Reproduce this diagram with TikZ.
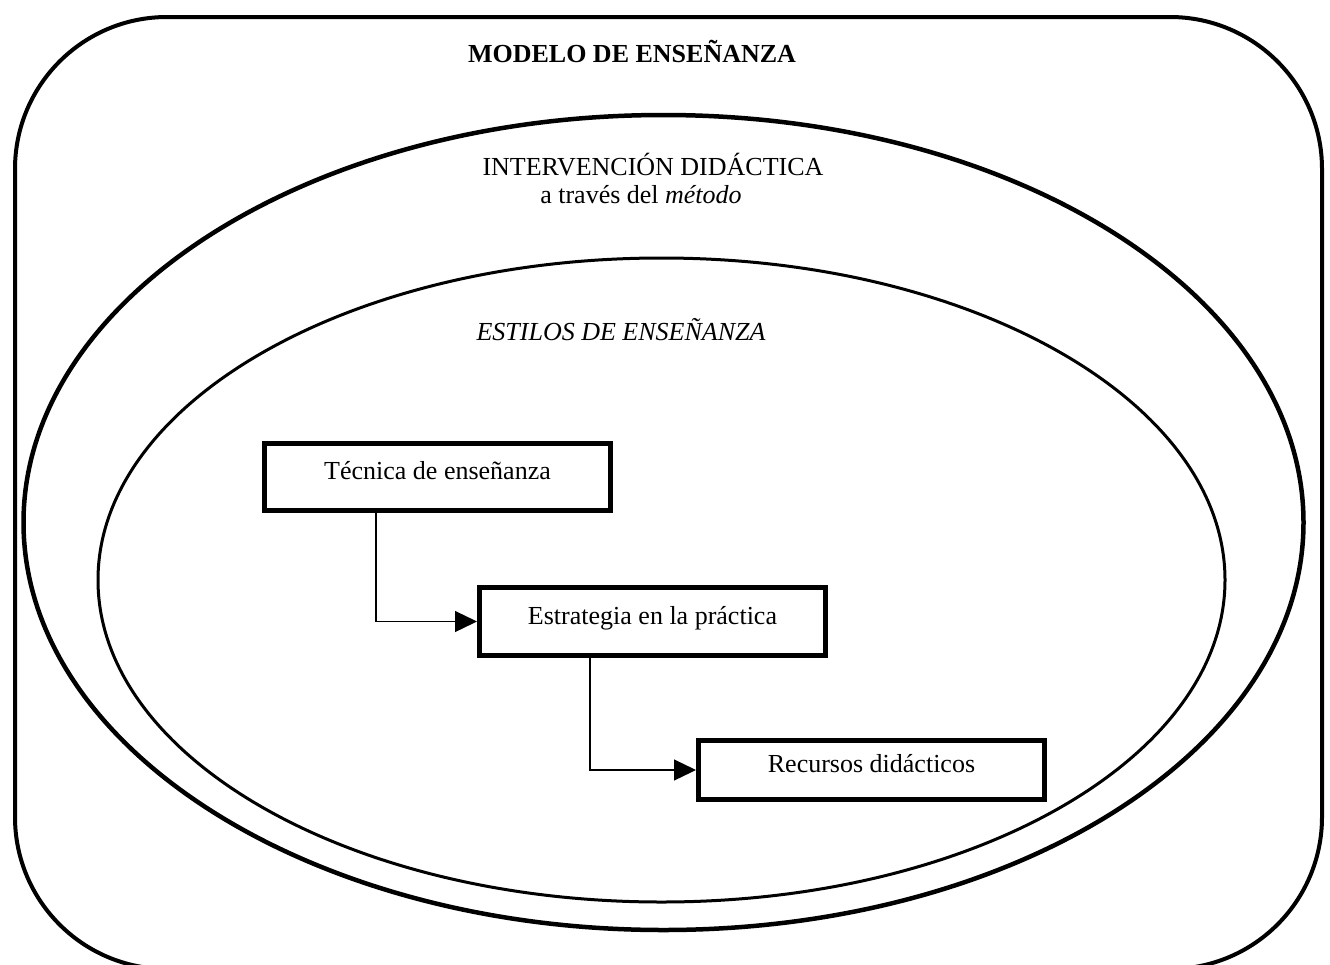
\documentclass[tikz,border=0pt]{standalone}
\usepackage{fontspec}
\setmainfont{Liberation Serif}
\usetikzlibrary{arrows.meta}
\begin{document}
\begin{tikzpicture}[x=1pt,y=-1pt,
  lbl/.style={font=\fontsize{26}{30}\selectfont, inner sep=0pt, anchor=base},
  boxnode/.style={draw, line width=5pt, minimum width=346pt, inner sep=0pt,
    font=\fontsize{26}{30}\selectfont, text height=18pt, text depth=13pt},
  conn/.style={line width=1.3pt, -{Triangle[length=22pt,width=21pt]}},
]
\useasboundingbox (0,0) rectangle (1330,964);
% outer frame
\draw[line width=4pt, rounded corners=152pt] (15,17) rectangle (1322,969);
% ellipses
\draw[line width=4.5pt] (663.5,522.5) ellipse [x radius=640pt, y radius=407.5pt];
\draw[line width=3pt] (661.5,580) ellipse [x radius=563.5pt, y radius=322pt];
% labels
\node[lbl, font=\fontsize{26}{30}\selectfont\bfseries] (title) at (632,62) {MODELO DE ENSEÑANZA};
\node[lbl] (interv) at (653,175) {INTERVENCIÓN DIDÁCTICA};
\node[lbl] (metodo) at (641,203) {a través del \textit{método}};
\node[lbl, font=\fontsize{26}{30}\selectfont\itshape] (estilos) at (621,340) {ESTILOS DE ENSEÑANZA};
% boxes
\node[boxnode, minimum height=67pt] (tec) at (437.5,477) {Técnica de enseñanza};
\node[boxnode, minimum height=68pt] (est) at (652.5,621.5) {Estrategia en la práctica};
\node[boxnode, minimum height=59pt] (rec) at (871.5,770) {Recursos didácticos};
% connectors
\draw[conn] ([xshift=-61.5pt]tec.south) |- (est.west);
\draw[conn] ([xshift=-62.5pt]est.south) |- (rec.west);
\end{tikzpicture}
\end{document}
